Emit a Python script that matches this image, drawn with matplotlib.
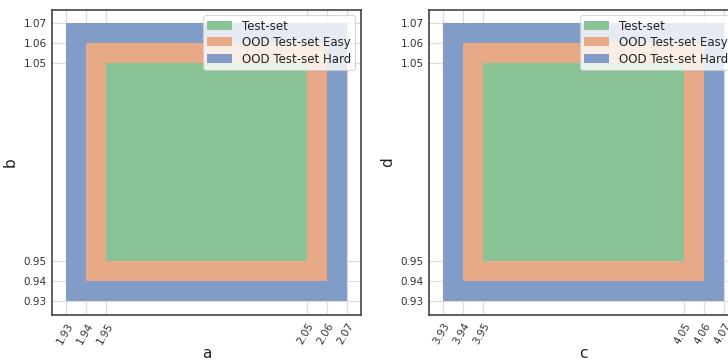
import matplotlib
matplotlib.use("Agg")
import matplotlib.pyplot as plt
from matplotlib.patches import Rectangle, Patch

# Data
labels = ["Test-set", "OOD Test-set Easy", "OOD Test-set Hard"]
colors = ["#88C295", "#E7A986", "#829CC8"]
# (low, high) ranges per set
a_ranges = [(1.95, 2.05), (1.94, 2.06), (1.93, 2.07)]
b_ranges = [(0.95, 1.05), (0.94, 1.06), (0.93, 1.07)]
c_ranges = [(3.95, 4.05), (3.94, 4.06), (3.93, 4.07)]
d_ranges = [(0.95, 1.05), (0.94, 1.06), (0.93, 1.07)]
a_ticks = ["1.93", "1.94", "1.95", "2.05", "2.06", "2.07"]
b_ticks = ["0.93", "0.94", "0.95", "1.05", "1.06", "1.07"]
c_ticks = ["3.93", "3.94", "3.95", "4.05", "4.06", "4.07"]
d_ticks = ["0.93", "0.94", "0.95", "1.05", "1.06", "1.07"]

plt.rcParams['font.family'] = ['DejaVu Sans']

fig = plt.figure(figsize=(7.28, 3.6), dpi=100)
W, H = 728, 360
ax1 = fig.add_axes([52 / W, 45 / H, 309 / W, 305.5 / H])
ax2 = fig.add_axes([429 / W, 45 / H, 309 / W, 305.5 / H])


def draw(ax, xr, yr, xt, yt, xlabel, ylabel):
    # draw outer first
    for i in [2, 1, 0]:
        (x0, x1), (y0, y1) = xr[i], yr[i]
        ax.add_patch(Rectangle((x0, y0), x1 - x0, y1 - y0, facecolor=colors[i],
                               edgecolor='none', zorder=2))
    xs = [float(t) for t in xt]
    ys = [float(t) for t in yt]
    xmin, xmax = min(xs), max(xs)
    ymin, ymax = min(ys), max(ys)
    mx = (xmax - xmin) * 0.05
    my = (ymax - ymin) * 0.05
    ax.set_xlim(xmin - mx, xmax + mx)
    ax.set_ylim(ymin - my, ymax + my)
    ax.set_xticks(xs)
    ax.set_xticklabels(xt, rotation=60, ha='right', rotation_mode='anchor')
    ax.set_yticks(ys)
    ax.set_yticklabels(yt)
    ax.tick_params(axis='both', length=0, labelsize=7.5, colors='#333333', pad=4)
    ax.grid(True, color='#dddddd', linewidth=0.9, zorder=0)
    ax.set_axisbelow(True)
    for s in ax.spines.values():
        s.set_color('#444444')
        s.set_linewidth(1.2)
    ax.set_xlabel(xlabel, fontsize=11, color='#222222', labelpad=0)
    ax.set_ylabel(ylabel, fontsize=11, color='#222222', labelpad=4)
    handles = [Patch(facecolor=colors[i], edgecolor='none', label=labels[i])
               for i in range(3)]
    leg = ax.legend(handles=handles, loc='upper right', fontsize=8.5,
                    framealpha=0.8, edgecolor='#cccccc', fancybox=True,
                    borderaxespad=0.5, handlelength=2.1, handleheight=0.8,
                    labelspacing=0.3, borderpad=0.35)
    leg.get_frame().set_linewidth(0.8)
    for t in leg.get_texts():
        t.set_color('#222222')


draw(ax1, a_ranges, b_ranges, a_ticks, b_ticks, "a", "b")
draw(ax2, c_ranges, d_ranges, c_ticks, d_ticks, "c", "d")

fig.savefig("out.png", dpi=100)
